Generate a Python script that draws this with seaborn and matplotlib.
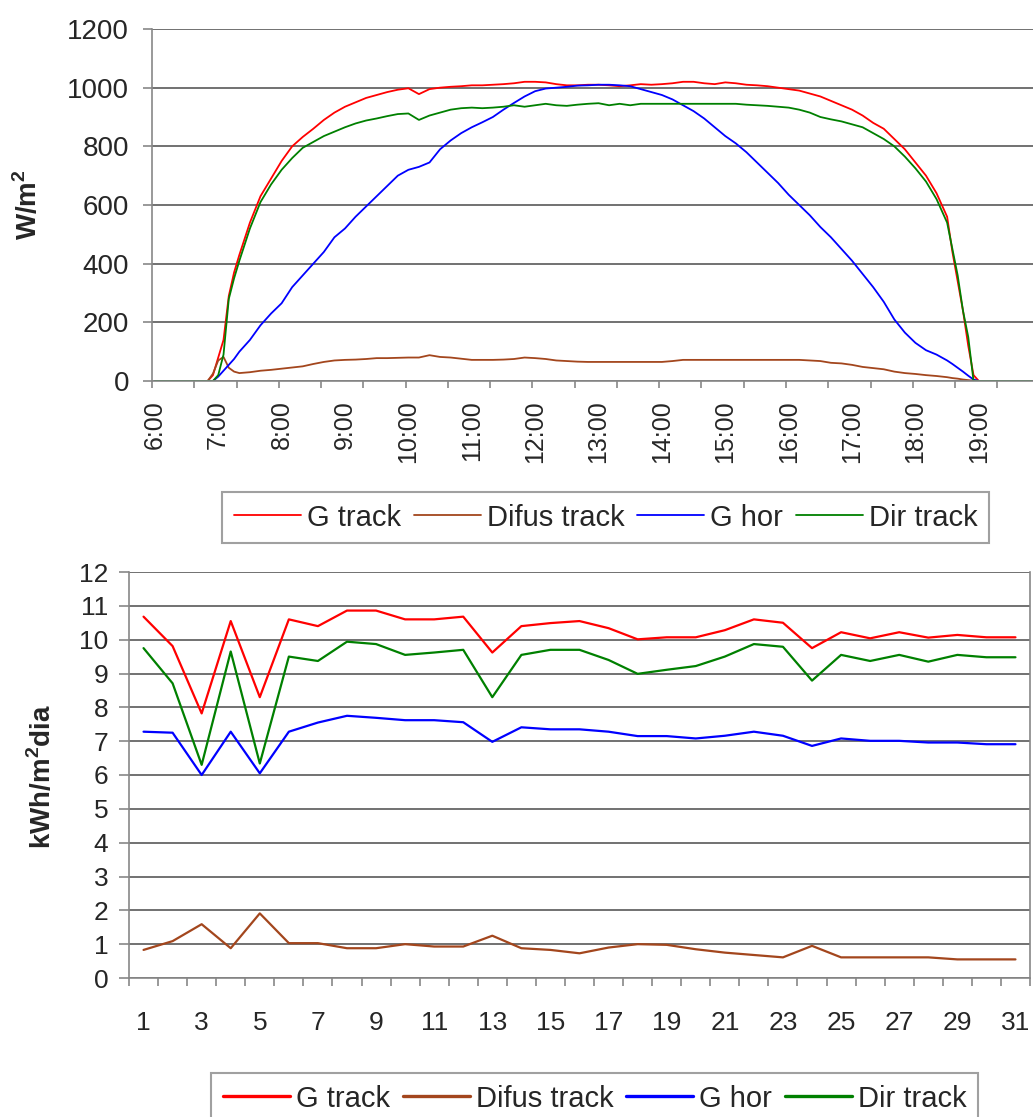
import numpy as np
import pandas as pd
import seaborn as sns
import matplotlib.pyplot as plt
from matplotlib.lines import Line2D
from matplotlib.ticker import FixedLocator

sns.set_style("white")
plt.rcParams['font.family'] = ['Liberation Sans', 'DejaVu Sans']
plt.rcParams['mathtext.fontset'] = 'custom'
plt.rcParams['mathtext.rm'] = 'Liberation Sans'
plt.rcParams['mathtext.bf'] = 'Liberation Sans:bold'

series = ['G track', 'Difus track', 'G hor', 'Dir track']
colors = ['#ff0000', '#a3461d', '#0000ff', '#008000']

# --- dia tipo (W/m2) ---
times = ['6:00', '6:10', '6:20', '6:30', '6:40', '6:50', '6:55',
         '7:00', '7:05', '7:10', '7:15', '7:20', '7:30', '7:40', '7:50',
         '8:00', '8:10', '8:20', '8:30', '8:40', '8:50',
         '9:00', '9:10', '9:20', '9:30', '9:40', '9:50',
         '10:00', '10:10', '10:20', '10:30', '10:40', '10:50',
         '11:00', '11:10', '11:20', '11:30', '11:40', '11:50',
         '12:00', '12:10', '12:20', '12:30', '12:40', '12:50',
         '13:00', '13:10', '13:20', '13:30', '13:40', '13:50',
         '14:00', '14:10', '14:20', '14:30', '14:40', '14:50',
         '15:00', '15:10', '15:20', '15:30', '15:40', '15:50',
         '16:00', '16:10', '16:20', '16:30', '16:40', '16:50',
         '17:00', '17:10', '17:20', '17:30', '17:40', '17:50',
         '18:00', '18:10', '18:20', '18:30', '18:35', '18:40', '18:45', '18:50', '18:55',
         '19:00', '19:10', '19:20', '19:30', '19:40', '19:50']

g_track = [0, 0, 0, 0, 0, 0, 20,
           80, 140, 290, 370, 430, 540, 630, 690,
           750, 800, 832, 860, 890, 915,
           935, 950, 965, 975, 985, 993,
           998, 978, 995, 1000, 1003, 1005,
           1008, 1008, 1010, 1012, 1015, 1020,
           1020, 1018, 1012, 1008, 1008, 1010,
           1010, 1008, 1005, 1008, 1012, 1010,
           1012, 1015, 1020, 1020, 1015, 1012,
           1018, 1015, 1010, 1008, 1005, 1000,
           995, 990, 980, 970, 955, 940,
           925, 905, 880, 860, 825, 790,
           745, 700, 640, 560, 440, 340, 240, 120, 20,
           0, 0, 0, 0, 0, 0]

difus_track = [0, 0, 0, 0, 0, 0, 25,
               70, 82, 45, 32, 27, 30, 35, 38,
               42, 46, 50, 58, 65, 70,
               72, 73, 75, 78, 78, 79,
               80, 80, 88, 82, 80, 76,
               72, 72, 72, 73, 75, 80,
               78, 75, 70, 68, 66, 65,
               65, 65, 65, 65, 65, 65,
               65, 68, 72, 72, 72, 72,
               72, 72, 72, 72, 72, 72,
               72, 72, 70, 68, 62, 60,
               55, 48, 44, 40, 32, 27,
               24, 20, 17, 13, 10, 8, 5, 3, 1,
               0, 0, 0, 0, 0, 0]

g_hor = [0, 0, 0, 0, 0, 0, 0,
         15, 35, 55, 75, 100, 140, 190, 230,
         265, 320, 360, 400, 440, 490,
         520, 560, 595, 630, 665, 700,
         720, 730, 745, 790, 820, 845,
         865, 882, 900, 925, 948, 970,
         988, 997, 1000, 1003, 1007, 1008,
         1010, 1010, 1008, 1005, 995, 985,
         975, 960, 940, 920, 895, 865,
         835, 810, 780, 745, 710, 675,
         635, 600, 565, 525, 490, 450,
         410, 365, 320, 270, 210, 165,
         130, 105, 90, 70, 58, 45, 32, 18, 5,
         0, 0, 0, 0, 0, 0]

dir_track = [0, 0, 0, 0, 0, 0, 0,
             20, 90, 280, 350, 410, 520, 610, 670,
             720, 760, 795, 815, 835, 850,
             865, 878, 888, 895, 903, 910,
             912, 890, 905, 915, 925, 930,
             932, 930, 932, 935, 940, 935,
             940, 945, 940, 938, 942, 945,
             947, 940, 945, 940, 945, 945,
             945, 945, 945, 945, 945, 945,
             945, 945, 942, 940, 938, 935,
             932, 925, 915, 900, 892, 885,
             875, 865, 845, 825, 800, 765,
             725, 680, 620, 540, 450, 360, 240, 150, 0,
             0, 0, 0, 0, 0, 0]

# --- valores diarios del mes (kWh/m2 dia) ---
days = list(range(1, 32))
g_track_day = [10.68, 9.81, 7.82, 10.55, 8.30, 10.6, 10.4, 10.86, 10.86, 10.6,
               10.6, 10.68, 9.62, 10.4, 10.49, 10.55, 10.34, 10.01, 10.07, 10.07,
               10.28, 10.6, 10.5, 9.75, 10.22, 10.04, 10.22, 10.06, 10.14, 10.07, 10.07]
difus_day = [0.83, 1.09, 1.59, 0.88, 1.91, 1.03, 1.03, 0.88, 0.88, 1.0,
             0.93, 0.93, 1.25, 0.88, 0.83, 0.73, 0.9, 1.0, 0.98, 0.85,
             0.75, 0.68, 0.61, 0.95, 0.61, 0.61, 0.61, 0.61, 0.55, 0.55, 0.55]
g_hor_day = [7.28, 7.25, 6.0, 7.28, 6.05, 7.28, 7.55, 7.75, 7.69, 7.62,
             7.62, 7.56, 6.98, 7.41, 7.35, 7.35, 7.28, 7.15, 7.15, 7.08,
             7.16, 7.28, 7.16, 6.86, 7.08, 7.01, 7.01, 6.96, 6.96, 6.91, 6.91]
dir_day = [9.75, 8.71, 6.30, 9.65, 6.34, 9.5, 9.37, 9.94, 9.87, 9.55,
           9.62, 9.70, 8.30, 9.55, 9.70, 9.70, 9.4, 8.99, 9.11, 9.22,
           9.5, 9.87, 9.79, 8.79, 9.55, 9.37, 9.55, 9.35, 9.55, 9.48, 9.48]

hours = [int(t.split(':')[0]) + int(t.split(':')[1]) / 60 for t in times]

df_dia = pd.concat([pd.DataFrame({'hora': hours, 'valor': v, 'serie': s})
                    for s, v in zip(series, [g_track, difus_track, g_hor, dir_track])])
df_mes = pd.concat([pd.DataFrame({'dia': days, 'valor': v, 'serie': s})
                    for s, v in zip(series, [g_track_day, difus_day, g_hor_day, dir_day])])

W, H = 1033, 1117
fig = plt.figure(figsize=(W / 100, H / 100), dpi=100)
ax1 = fig.add_axes([152 / W, 1 - 381 / H, (W - 152) / W, (381 - 29) / H])
ax2 = fig.add_axes([129 / W, 1 - 978 / H, (1030 - 129) / W, (978 - 572) / H])

grid_c = '#666666'
axis_c = '#888888'

# ---- top: irradiancia ----
sns.lineplot(data=df_dia, x='hora', y='valor', hue='serie', hue_order=series,
             palette=colors, linewidth=1.3, legend=False, ax=ax1)
ax1.set(xlim=(5.955, 19.855), ylim=(0, 1200), xlabel='', ylabel='')
ax1.set_yticks(range(0, 1201, 200))
ax1.set_xticks(range(6, 20))
ax1.set_xticklabels(['%d:00' % h for h in range(6, 20)], rotation=90)
ax1.xaxis.set_minor_locator(FixedLocator(5.958 + np.arange(21) * 2 / 3))
ax1.tick_params(axis='x', which='major', length=0, pad=14, labelsize=18)
ax1.tick_params(axis='x', which='minor', length=5, width=1.2, color=axis_c, bottom=True)
ax1.tick_params(axis='y', length=6.5, width=1.2, color=axis_c, pad=10, labelsize=20, left=True)
ax1.yaxis.grid(True, color=grid_c, linewidth=1.3)
ax1.xaxis.grid(False)
for side in ['top', 'right']:
    ax1.spines[side].set_visible(False)
for side in ['left', 'bottom']:
    ax1.spines[side].set_color(axis_c)
    ax1.spines[side].set_linewidth(1.2)
fig.text(28 / W, 1 - 205 / H, r'W/m$^{\mathbf{2}}$', rotation=90, ha='center', va='center',
         fontsize=20, fontweight='bold')

# ---- bottom: valores diarios ----
sns.lineplot(data=df_mes, x='dia', y='valor', hue='serie', hue_order=series,
             palette=colors, linewidth=1.6, legend=False, ax=ax2)
ax2.set(xlim=(0.5, 31.5), ylim=(0, 12), xlabel='', ylabel='')
ax2.set_yticks(range(0, 13))
ax2.set_xticks(range(1, 32, 2))
ax2.xaxis.set_minor_locator(FixedLocator(np.arange(0.5, 32, 1)))
ax2.tick_params(axis='x', which='major', length=0, pad=24, labelsize=19)
ax2.tick_params(axis='x', which='minor', length=6, width=1.2, color=axis_c, bottom=True)
ax2.tick_params(axis='y', length=7, width=1.2, color=axis_c, pad=8, labelsize=19, left=True)
ax2.yaxis.grid(True, color=grid_c, linewidth=1.3)
ax2.xaxis.grid(False)
ax2.spines['top'].set_visible(False)
for side in ['left', 'right', 'bottom']:
    ax2.spines[side].set_color(axis_c)
    ax2.spines[side].set_linewidth(1.2)
fig.text(42 / W, 1 - 776 / H, r'kWh/m$^{\mathbf{2}}$dia', rotation=90, ha='center', va='center',
         fontsize=20, fontweight='bold')

# ---- leyendas ----
for anchor, lw in [((222 / W, 1 - 492 / H), 1.3), ((211 / W, 1 - 1073 / H), 2.4)]:
    handles = [Line2D([], [], color=c, lw=lw) for c in colors]
    leg = fig.legend(handles, series, loc='upper left', bbox_to_anchor=anchor,
                     ncol=4, fontsize=21, frameon=True, fancybox=False,
                     borderaxespad=0, borderpad=0.4, handlelength=2.3,
                     handletextpad=0.2, columnspacing=0.45)
    leg.get_frame().set_edgecolor(axis_c)
    leg.get_frame().set_linewidth(1.5)

fig.savefig('out.png', dpi=100)
